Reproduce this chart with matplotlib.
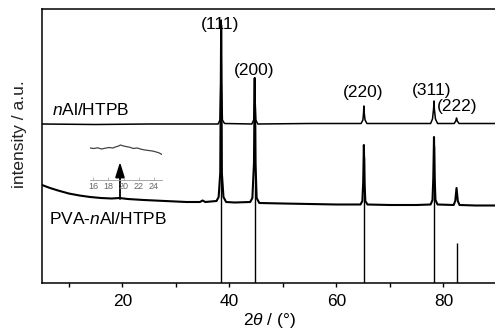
import matplotlib
matplotlib.use('Agg')
import matplotlib.pyplot as plt

plt.rcParams['font.family'] = 'Liberation Sans'
plt.rcParams['mathtext.fontset'] = 'custom'
plt.rcParams['mathtext.rm'] = 'Liberation Sans'
plt.rcParams['mathtext.it'] = 'Liberation Sans:italic'

# XRD pattern of nAl/HTPB (offset upward)
tt_top = [5, 15, 25, 35, 37.9, 38.25, 38.4, 38.47, 38.55, 38.7, 39.1,
          44.2, 44.55, 44.68, 44.74, 44.8, 44.95, 45.3,
          55, 64.6, 64.95, 65.07, 65.13, 65.2, 65.35, 65.7,
          77.6, 77.95, 78.15, 78.23, 78.3, 78.5, 78.9,
          82.0, 82.3, 82.44, 82.58, 82.9, 90]
int_top = [159, 158.5, 159, 159, 159, 163, 200, 263, 200, 163, 159.5,
           159, 163, 185, 205, 185, 163, 159,
           159.5, 159.5, 163, 170, 177, 170, 163, 159.5,
           159.5, 164, 174, 182, 174, 164, 159.5,
           159.5, 162, 165, 162, 159.5, 159.5]

# XRD pattern of PVA-nAl/HTPB
tt_pva = [5, 6.5, 8, 10, 12, 14, 16, 18, 19.5, 21, 24, 28, 32, 34.5, 35.0, 35.5,
          37.6, 38.0, 38.3, 38.47, 38.6, 38.9, 39.4, 41,
          43.9, 44.3, 44.6, 44.74, 44.88, 45.1, 45.6, 50, 55, 60,
          64.5, 64.85, 65.0, 65.13, 65.26, 65.4, 65.8, 70, 75,
          77.6, 77.95, 78.1, 78.23, 78.36, 78.5, 78.9,
          81.9, 82.2, 82.44, 82.68, 83.0, 86, 90]
int_pva = [98, 95, 92.5, 89.5, 87.5, 86, 85, 84.5, 85, 84, 83, 82, 81, 81, 82.5, 81,
           82, 86, 110, 258, 110, 86, 81, 80.5,
           81, 85, 120, 205, 120, 85, 80, 79.5, 79, 78.5,
           78.5, 82, 100, 138, 100, 82, 78.5, 78, 78,
           78.5, 83, 105, 146, 105, 83, 78.5,
           78, 82, 95, 82, 78, 77.5, 77.5]

# Al reference lines
ref_pos = [38.47, 44.74, 65.13, 78.23, 82.44]
ref_int = [159, 159, 126, 137, 40]

# peak labels
hkl = ['(111)', '(200)', '(220)', '(311)', '(222)']
hkl_x = [38.2, 44.7, 64.9, 77.8, 82.6]
hkl_y = [259, 212, 191, 193, 176]

# enlarged view around the PVA hump
tt_zoom = [15.6, 16.1, 16.6, 17.1, 17.6, 18.1, 18.6, 19.0, 19.3, 19.6, 19.9,
           20.3, 20.8, 21.3, 21.8, 22.3, 22.8, 23.3, 23.8, 24.3, 24.7, 25.05]
int_zoom = [32, 31.5, 32.2, 31, 31.8, 32.5, 32, 33.2, 33.8, 35, 34.2,
            33.5, 32.8, 31.5, 32, 30.8, 30, 29.5, 29, 28, 27, 25.5]

fig = plt.figure(figsize=(4.95, 3.34), dpi=100)
ax = fig.add_axes([42/495, 51/334, 455/495, 274/334])

ax.plot(tt_top, int_top, color='black', lw=1.1)
ax.plot(tt_pva, int_pva, color='black', lw=1.5)
ax.vlines(ref_pos, 0, ref_int, color='black', lw=1.0)

for lab, x, y in zip(hkl, hkl_x, hkl_y):
    ax.text(x, y, lab, ha='center', va='center', fontsize=12.5)

ax.text(6.9, 173, r'$\it{n}$Al/HTPB', ha='left', va='center', fontsize=12.5)
ax.text(6.35, 64, r'PVA-$\it{n}$Al/HTPB', ha='left', va='center', fontsize=12.5)

ax.annotate('', xy=(19.57, 121), xytext=(19.57, 84),
            arrowprops=dict(arrowstyle='-|>,head_length=0.9,head_width=0.28',
                            color='black', lw=1.3, mutation_scale=10,
                            shrinkA=0, shrinkB=0))

ax.set_xlim(5, 90)
ax.set_ylim(0, 274)
ax.set_xticks([20, 40, 60, 80])
ax.set_xticks([10, 30, 50, 70], minor=True)
ax.set_yticks([])
ax.tick_params(axis='x', which='both', direction='out', length=3, width=1,
               labelsize=12.5, pad=5)
for s in ax.spines.values():
    s.set_linewidth(1.1)

ax.set_xlabel(r'2$\mathit{\theta}$ / (°)', fontsize=12.5, labelpad=1)
ax.set_ylabel('intensity / a.u.', fontsize=12.5, color='#222222')
ax.yaxis.set_label_coords(-0.033, 0.544)

# inset
axi = fig.add_axes([90/495, (334-180)/334, 72/495, 40/334])
axi.plot(tt_zoom, int_zoom, color='#444444', lw=0.9)
axi.set_xlim(15.6, 25.05)
axi.set_ylim(0, 40)
axi.set_xticks([16, 18, 20, 22, 24])
axi.set_yticks([])
axi.patch.set_alpha(0)
for side in ['top', 'left', 'right']:
    axi.spines[side].set_visible(False)
axi.spines['bottom'].set_color('#999999')
axi.spines['bottom'].set_linewidth(0.6)
axi.tick_params(axis='x', direction='in', length=2, width=0.5,
                colors='#999999', labelcolor='#666666', labelsize=6.5, pad=1.5)

fig.savefig('out.png', dpi=100)
